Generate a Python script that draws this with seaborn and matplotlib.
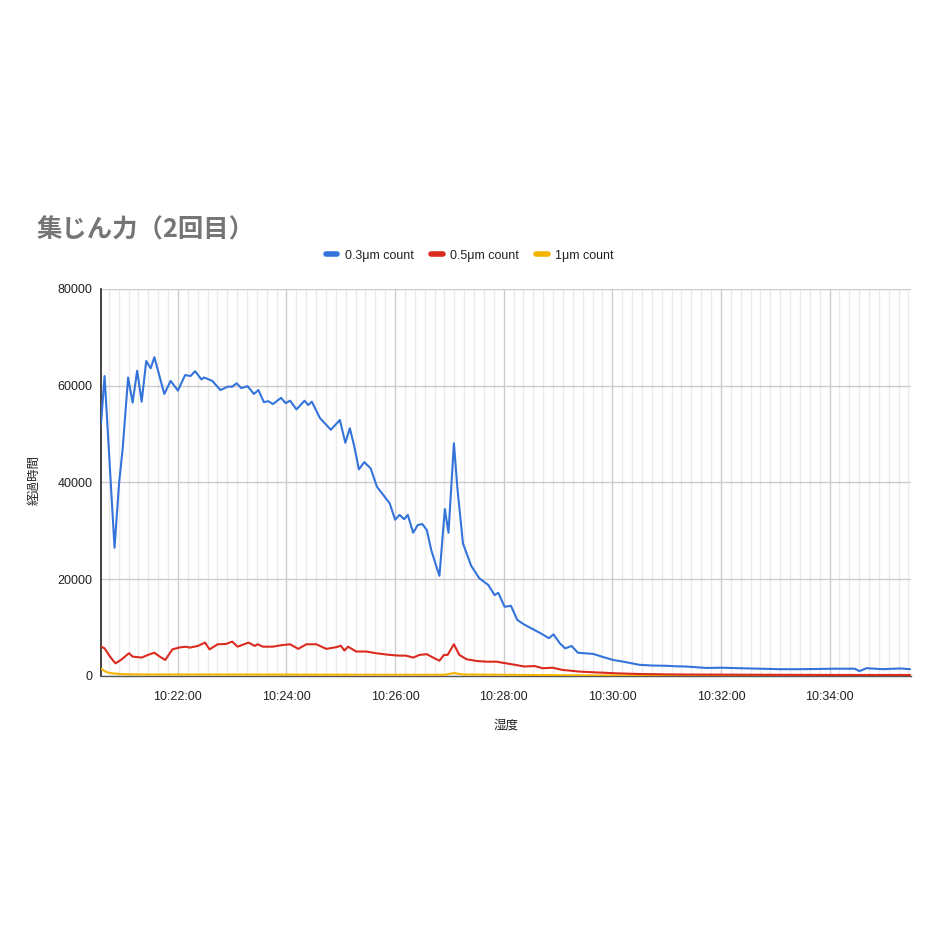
import pandas as pd
import matplotlib
matplotlib.use("Agg")
import matplotlib.pyplot as plt
import matplotlib.dates as mdates
import matplotlib.ticker as mtick
from matplotlib.lines import Line2D
import seaborn as sns

# 0.3um count
t03 = ["10:20:35", "10:20:39", "10:20:50", "10:20:55", "10:20:59", "10:21:05", "10:21:10",
       "10:21:15", "10:21:20", "10:21:25", "10:21:30", "10:21:34", "10:21:45", "10:21:52",
       "10:22:00", "10:22:08", "10:22:14", "10:22:19", "10:22:26", "10:22:29", "10:22:38",
       "10:22:47", "10:22:55", "10:23:00", "10:23:05", "10:23:10", "10:23:17", "10:23:24",
       "10:23:29", "10:23:35", "10:23:40", "10:23:45", "10:23:54", "10:23:59", "10:24:04",
       "10:24:11", "10:24:20", "10:24:24", "10:24:28", "10:24:37", "10:24:44", "10:24:49",
       "10:24:59", "10:25:05", "10:25:10", "10:25:15", "10:25:20", "10:25:26", "10:25:33",
       "10:25:40", "10:25:47", "10:25:54", "10:26:00", "10:26:05", "10:26:10", "10:26:14",
       "10:26:20", "10:26:25", "10:26:30", "10:26:35", "10:26:40", "10:26:44", "10:26:49",
       "10:26:55", "10:26:59", "10:27:05", "10:27:09", "10:27:15", "10:27:24", "10:27:33",
       "10:27:43", "10:27:50", "10:27:54", "10:28:01", "10:28:08", "10:28:15", "10:28:22",
       "10:28:32", "10:28:42", "10:28:50", "10:28:55", "10:29:02", "10:29:08", "10:29:15",
       "10:29:22", "10:29:39", "10:29:50", "10:30:01", "10:30:12", "10:30:30", "10:30:45",
       "10:31:00", "10:31:10", "10:31:22", "10:31:33", "10:31:44", "10:32:01", "10:32:21",
       "10:32:43", "10:33:05", "10:33:27", "10:33:49", "10:34:04", "10:34:22", "10:34:28",
       "10:34:33", "10:34:41", "10:34:59", "10:35:18", "10:35:29"]
v03 = [52000, 62000, 26500, 39800, 47000, 61700, 56500,
       63100, 56700, 65100, 63600, 65900, 58300, 61000,
       59000, 62200, 62000, 63000, 61300, 61700, 61000,
       59100, 59800, 59800, 60500, 59500, 59900, 58300,
       59100, 56600, 56800, 56200, 57500, 56400, 56900,
       55100, 56900, 56000, 56700, 53300, 51900, 50900,
       52900, 48200, 51200, 47400, 42700, 44200, 42900,
       39100, 37400, 35700, 32300, 33300, 32400, 33300,
       29600, 31200, 31400, 30200, 26000, 23600, 20700,
       34500, 29600, 48100, 38500, 27400, 22800, 20200,
       18800, 16700, 17200, 14300, 14500, 11600, 10700,
       9700, 8700, 7800, 8600, 6750, 5700, 6200,
       4800, 4550, 3900, 3300, 2960, 2300, 2150,
       2100, 2000, 1950, 1800, 1650, 1700, 1600,
       1500, 1400, 1400, 1450, 1500, 1500, 1500,
       1000, 1600, 1400, 1550, 1400]

# 0.5um count
t05 = ["10:20:35", "10:20:39", "10:20:45", "10:20:51", "10:20:57", "10:21:06", "10:21:10",
       "10:21:20", "10:21:27", "10:21:34", "10:21:40", "10:21:46", "10:21:54", "10:22:02",
       "10:22:09", "10:22:13", "10:22:22", "10:22:30", "10:22:35", "10:22:44", "10:22:53",
       "10:23:00", "10:23:06", "10:23:16", "10:23:18", "10:23:25", "10:23:28", "10:23:34",
       "10:23:45", "10:23:54", "10:24:04", "10:24:13", "10:24:22", "10:24:33", "10:24:44",
       "10:24:55", "10:25:00", "10:25:04", "10:25:08", "10:25:17", "10:25:28", "10:25:39",
       "10:25:54", "10:26:05", "10:26:12", "10:26:20", "10:26:27", "10:26:35", "10:26:42",
       "10:26:49", "10:26:54", "10:26:58", "10:27:05", "10:27:11", "10:27:19", "10:27:30",
       "10:27:41", "10:27:52", "10:28:03", "10:28:14", "10:28:23", "10:28:34", "10:28:43",
       "10:28:54", "10:29:05", "10:29:24", "10:29:46", "10:30:04", "10:30:30", "10:31:14",
       "10:32:31", "10:34:22", "10:35:29"]
v05 = [6100, 5700, 4000, 2600, 3300, 4700, 4000,
       3800, 4350, 4800, 4000, 3300, 5500, 5900,
       6050, 5850, 6200, 6900, 5500, 6550, 6600,
       7100, 6050, 6750, 6900, 6200, 6550, 6050,
       6050, 6350, 6550, 5600, 6550, 6550, 5600,
       5950, 6250, 5250, 6050, 5050, 5050, 4700,
       4350, 4200, 4200, 3800, 4350, 4500, 3800,
       3150, 4350, 4350, 6550, 4350, 3450, 3100,
       2950, 2950, 2600, 2250, 1950, 2050, 1600,
       1700, 1250, 900, 700, 550, 400, 300,
       250, 200, 200]

# 1um count
t1 = ["10:20:35", "10:20:40", "10:20:45", "10:20:50", "10:21:00", "10:21:30", "10:22:30",
      "10:24:00", "10:26:00", "10:26:55", "10:27:05", "10:27:15", "10:28:00", "10:29:00",
      "10:30:00", "10:32:00", "10:35:29"]
v1 = [1500, 900, 600, 500, 350, 300, 300,
      280, 250, 250, 600, 300, 250, 150,
      100, 60, 50]

series_names = ["0.3μm count", "0.5μm count", "1μm count"]
colors = ["#3474DA", "#DB2A1F", "#F4B400"]

df = pd.concat([
    pd.DataFrame({"time": t03, "count": v03, "series": series_names[0]}),
    pd.DataFrame({"time": t05, "count": v05, "series": series_names[1]}),
    pd.DataFrame({"time": t1, "count": v1, "series": series_names[2]}),
])
df["time"] = pd.to_datetime("2024-01-01 " + df["time"])

sns.set_style("white")
plt.rcParams["font.family"] = ["Liberation Sans", "Noto Sans CJK JP", "DejaVu Sans"]

fig = plt.figure(figsize=(9.4, 9.4), dpi=100)
ax = fig.add_axes([0.1074, 0.2809, 0.8617, 0.4117])

sns.lineplot(
    data=df, x="time", y="count", hue="series",
    palette=dict(zip(series_names, colors)),
    hue_order=series_names[::-1], linewidth=1.5, legend=False, ax=ax, zorder=3,
    solid_joinstyle="round"
)

ax.set_xlim(pd.Timestamp("2024-01-01 10:20:35"), pd.Timestamp("2024-01-01 10:35:30"))
ax.set_ylim(0, 80000)
ax.yaxis.set_major_locator(mtick.MultipleLocator(20000))
ax.xaxis.set_major_locator(mdates.MinuteLocator(byminute=range(0, 60, 2)))
ax.xaxis.set_major_formatter(mdates.DateFormatter("%H:%M:%S"))
ax.xaxis.set_minor_locator(mtick.AutoMinorLocator(11))

ax.grid(True, axis="y", color="#cccccc", linewidth=1)
ax.grid(True, axis="x", which="major", color="#cccccc", linewidth=1)
ax.grid(True, axis="x", which="minor", color="#ebebeb", linewidth=1)
ax.set_axisbelow(True)

for s in ["top", "right"]:
    ax.spines[s].set_visible(False)
ax.spines["left"].set_color("#222222")
ax.spines["left"].set_linewidth(1.2)
ax.spines["bottom"].set_color("#555555")
ax.spines["bottom"].set_linewidth(1)

ax.tick_params(axis="x", which="major", direction="inout", length=9, width=1,
               color="#222222", labelsize=9, pad=6, labelcolor="#222222")
ax.tick_params(axis="x", which="minor", length=0)
ax.tick_params(axis="y", length=0, labelsize=9, pad=6, labelcolor="#222222")

ax.set_xlabel("")
ax.set_ylabel("")
fig.text(0.538, 0.228, "湿度", ha="center", va="center", fontsize=9, color="#222222")
fig.text(0.037, 0.489, "経過時間", ha="center", va="center", rotation=90,
         fontsize=9, color="#222222")

fig.text(0.039, 0.755, "集じん力（2回目）", ha="left", va="center", fontsize=18.3,
         fontweight="bold", color="#757575", family=["Noto Sans CJK JP", "DejaVu Sans"])

handles = [Line2D([0], [0], color=c, linewidth=4) for c in colors]
fig.legend(handles, series_names, loc="center", bbox_to_anchor=(0.500, 0.728), ncol=3,
           frameon=False, fontsize=9, handlelength=0.9, handletextpad=0.6,
           columnspacing=1.4, labelcolor="#222222")

fig.savefig("out.png", dpi=100)
